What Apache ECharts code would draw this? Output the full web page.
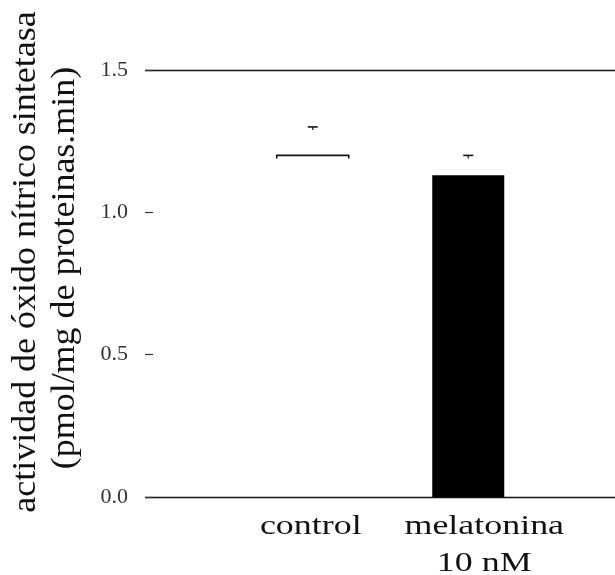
<!DOCTYPE html>
<html>
<head>
<meta charset="utf-8">
<script src="https://cdn.jsdelivr.net/npm/echarts@6/dist/echarts.min.js"></script>
<style>
html,body{margin:0;padding:0;background:#fff;}
#chart{width:615px;height:575px;}
</style>
</head>
<body>
<div id="chart"></div>
<script>
// ---- data ----
const categories = ['control', 'melatonina\n10 nM'];
const means = [1.2, 1.13];
const upperErr = [0.1, 0.07];
const yMin = 0, yMax = 1.5, yStep = 0.5;
const yTitleLine1 = 'actividad de óxido nítrico sintetasa';
const yTitleLine2 = '(pmol/mg de proteinas.min)';

// ---- rendering ----
const FONT = '"Liberation Serif", "Times New Roman", serif';
const chart = echarts.init(document.getElementById('chart'), null, {renderer: 'canvas'});

const barData = means.map((v, i) => [i, v, upperErr[i]]);

function renderBar(params, api) {
  const idx = api.value(0);
  const val = api.value(1);
  const top = api.coord([idx, val]);
  const base = api.coord([idx, 0]);
  const w = 72;
  const x0 = top[0] - w / 2;
  const children = [];
  if (idx === 0) {
    // open (white) bar: only its top edge is visible
    children.push({
      type: 'polyline',
      shape: {points: [[x0, top[1] + 3], [x0, top[1]], [x0 + w, top[1]], [x0 + w, top[1] + 3]]},
      style: {stroke: '#111', lineWidth: 1.6, fill: null}
    });
  } else {
    children.push({
      type: 'rect',
      shape: {x: x0, y: top[1], width: w, height: base[1] - top[1]},
      style: {fill: '#000'}
    });
  }
  const cap = api.coord([idx, val + api.value(2)]);
  children.push({
    type: 'line',
    shape: {x1: cap[0] - 5, y1: cap[1], x2: cap[0] + 5, y2: cap[1]},
    style: {stroke: '#111', lineWidth: 1.6}
  });
  children.push({
    type: 'line',
    shape: {x1: cap[0], y1: cap[1], x2: cap[0], y2: cap[1] + 3},
    style: {stroke: '#111', lineWidth: 1.2}
  });
  return {type: 'group', children: children};
}

const option = {
  backgroundColor: '#fff',
  animation: false,
  grid: [
    {left: 145, right: 0, top: 70, bottom: 78},
    {left: 235, right: 69, top: 70, bottom: 78}
  ],
  xAxis: [
    {gridIndex: 0, type: 'value', min: 0, max: 1, show: false},
    {
      gridIndex: 1, type: 'category', data: categories,
      axisLine: {show: false}, axisTick: {show: false},
      axisLabel: {show: false}
    }
  ],
  yAxis: [
    {
      gridIndex: 0, type: 'value', min: yMin, max: yMax, interval: yStep,
      axisLine: {show: false},
      axisTick: {show: true, inside: true, length: 8, lineStyle: {color: '#333', width: 1.2}},
      axisLabel: {
        margin: 17, color: '#333', fontFamily: FONT, fontSize: 22,
        formatter: v => v.toFixed(1)
      },
      splitLine: {show: true, lineStyle: {color: ['#111', 'rgba(0,0,0,0)', 'rgba(0,0,0,0)'], width: 1.3}}
    },
    {gridIndex: 1, type: 'value', min: yMin, max: yMax, show: false}
  ],
  series: [
    {
      type: 'custom',
      xAxisIndex: 1, yAxisIndex: 1,
      renderItem: renderBar,
      data: barData,
      encode: {x: 0, y: 1}
    }
  ],
  graphic: [
    {
      id: 't1', type: 'text', x: 26, y: 262, rotation: Math.PI / 2, scaleX: 1.09,
      style: {text: yTitleLine1, font: '33px "Liberation Serif"', fill: '#111', align: 'center', verticalAlign: 'middle'}
    },
    {
      id: 't2', type: 'text', x: 65, y: 268, rotation: Math.PI / 2, scaleX: 1.09,
      style: {text: yTitleLine2, font: '33px "Liberation Serif"', fill: '#111', align: 'center', verticalAlign: 'middle'}
    }
  ]
};
chart.setOption(option);

// category labels, placed through the category axis scale (printed with wide letterforms)
const labelDx = [-2, 16];
const baseY = chart.convertToPixel({yAxisIndex: 1}, 0);
const labelGraphics = categories.map((c, i) => {
  const x = chart.convertToPixel({xAxisIndex: 1}, i);
  return {
    id: 'cat' + i, type: 'text', x: x + labelDx[i], y: baseY + 11, scaleX: 1.33,
    style: {text: c, font: '27px "Liberation Serif"', fill: '#111', align: 'center', verticalAlign: 'top', lineHeight: 37}
  };
});
chart.setOption({graphic: labelGraphics});
</script>
</body>
</html>
